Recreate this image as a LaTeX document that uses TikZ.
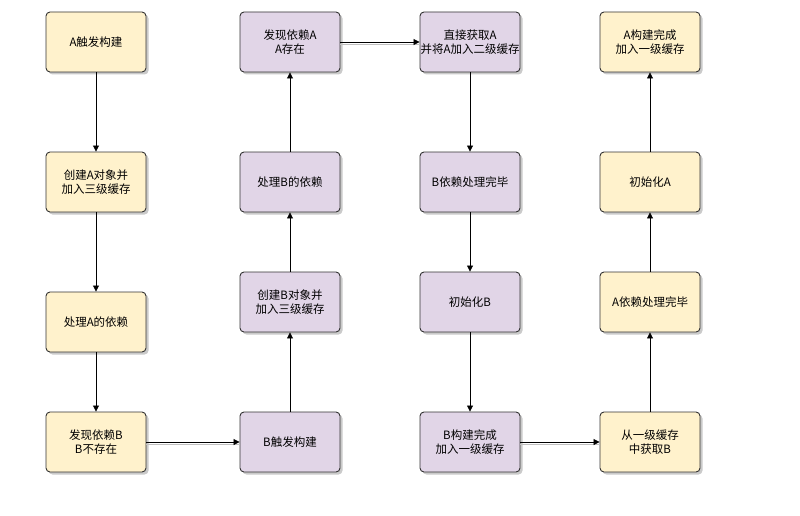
\documentclass[tikz,border=0pt]{standalone}
\usepackage{fontspec}
\newfontfamily\cjk{Noto Sans CJK SC}
\usetikzlibrary{arrows.meta,shadows}
\definecolor{yel}{HTML}{FFF2CC}
\definecolor{pur}{HTML}{E1D5E7}
\definecolor{edge}{HTML}{333333}
\tikzset{
  box/.style={draw=edge, line width=0.9pt, rounded corners=4pt, minimum width=100pt, minimum height=60pt,
    align=center, font=\cjk\fontsize{11.5}{14}\selectfont, inner sep=0pt,
    drop shadow={shadow xshift=2.5pt, shadow yshift=-2.5pt, fill=black!35, opacity=0.6}},
  ybox/.style={box, fill=yel},
  pbox/.style={box, fill=pur},
  arr/.style={-{Triangle[length=6pt,width=6pt]}, line width=0.8pt, black},
  darr/.style={arr, preaction={draw=black!25, line width=0.8pt, -, transform canvas={yshift=-2pt}}}
}
\begin{document}
\begin{tikzpicture}[x=1pt,y=-1pt]
\useasboundingbox (0,0) rectangle (800,516);
\node[ybox] (a1) at (96,42) {A触发构建};
\node[ybox] (a2) at (96,182) {创建A对象并\\加入三级缓存};
\node[ybox] (a3) at (96,322) {处理A的依赖};
\node[ybox] (a4) at (96,442) {发现依赖B\\B不存在};
\node[pbox] (b1) at (290,442) {B触发构建};
\node[pbox] (b2) at (290,302) {创建B对象并\\加入三级缓存};
\node[pbox] (b3) at (290,182) {处理B的依赖};
\node[pbox] (b4) at (290,42) {发现依赖A\\A存在};
\node[pbox] (c1) at (470,42) {直接获取A\\并将A加入二级缓存};
\node[pbox] (c2) at (470,182) {B依赖处理完毕};
\node[pbox] (c3) at (470,302) {初始化B};
\node[pbox] (c4) at (470,442) {B构建完成\\加入一级缓存};
\node[ybox] (d1) at (650,442) {从一级缓存\\中获取B};
\node[ybox] (d2) at (650,302) {A依赖处理完毕};
\node[ybox] (d3) at (650,182) {初始化A};
\node[ybox] (d4) at (650,42) {A构建完成\\加入一级缓存};
\draw[arr] (a1) -- (a2);
\draw[arr] (a2) -- (a3);
\draw[arr] (a3) -- (a4);
\draw[darr] (a4) -- (b1);
\draw[arr] (b1) -- (b2);
\draw[arr] (b2) -- (b3);
\draw[arr] (b3) -- (b4);
\draw[darr] (b4) -- (c1);
\draw[arr] (c1) -- (c2);
\draw[arr] (c2) -- (c3);
\draw[arr] (c3) -- (c4);
\draw[darr] (c4) -- (d1);
\draw[arr] (d1) -- (d2);
\draw[arr] (d2) -- (d3);
\draw[arr] (d3) -- (d4);
\end{tikzpicture}
\end{document}
